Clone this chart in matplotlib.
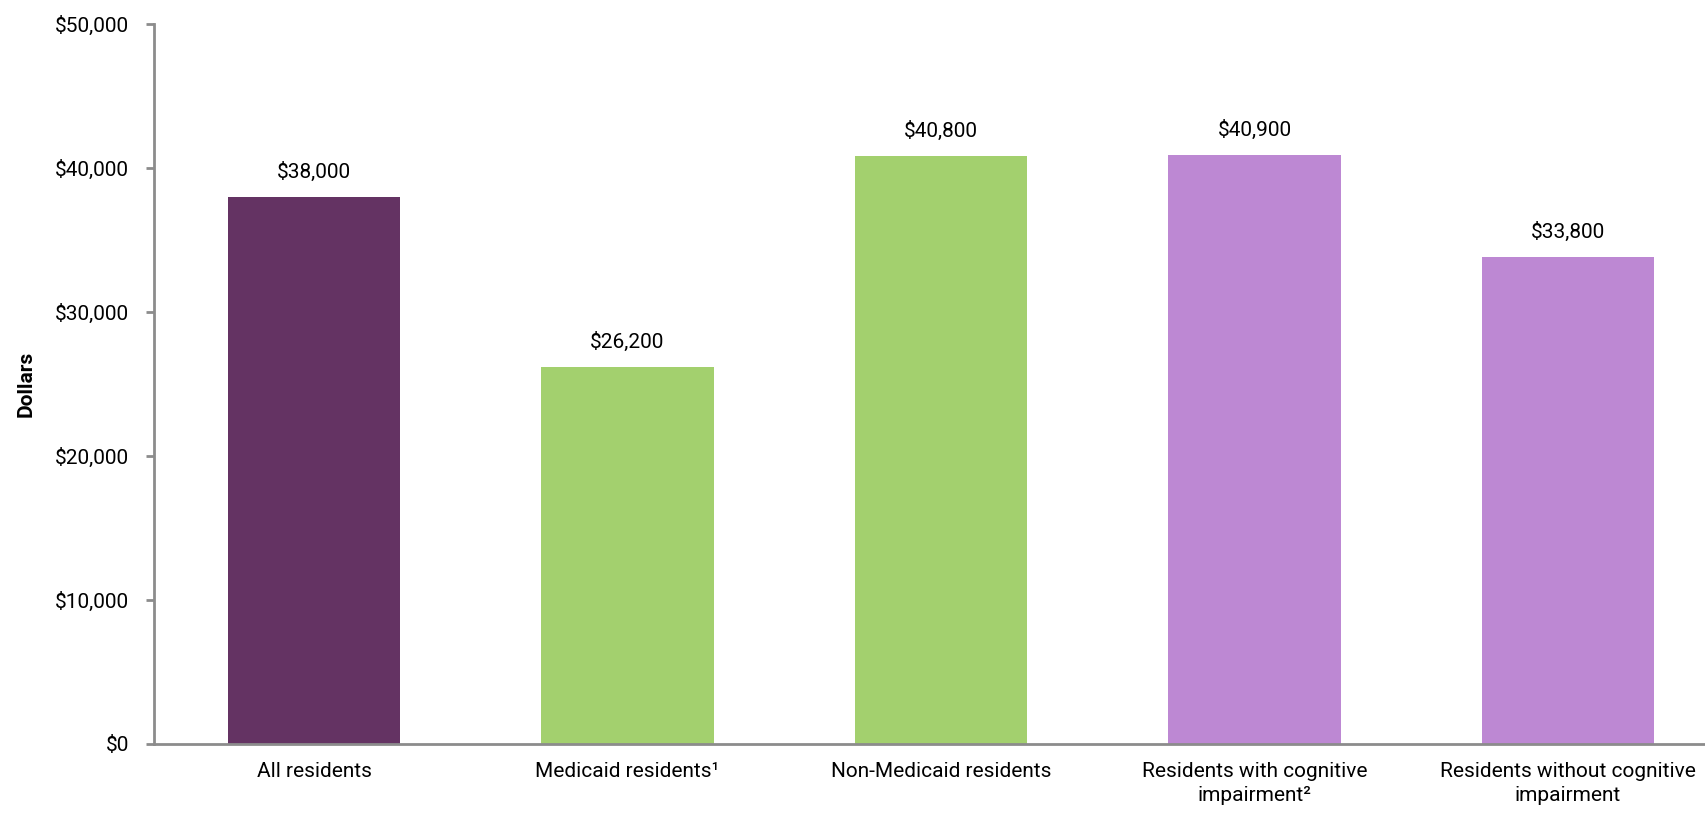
import matplotlib
matplotlib.use('Agg')
import matplotlib.pyplot as plt
import numpy as np

# chart data
categories = ['All residents', 'Medicaid residents\u00b9', 'Non-Medicaid residents',
              'Residents with cognitive\nimpairment\u00b2', 'Residents without cognitive\nimpairment']
values = [38000, 26200, 40800, 40900, 33800]
value_labels = ['$38,000', '$26,200', '$40,800', '$40,900', '$33,800']
colors = ['#643363', '#a3d06e', '#a3d06e', '#bd88d3', '#bd88d3']
yticks = [0, 10000, 20000, 30000, 40000, 50000]
ytick_labels = ['$0', '$10,000', '$20,000', '$30,000', '$40,000', '$50,000']

plt.rcParams['font.family'] = ['Roboto', 'DejaVu Sans']
fs = 15

fig = plt.figure(figsize=(17.06, 8.21), dpi=100)
ax = fig.add_axes([0.0903, 0.0938, 0.9097, 0.877])

x = np.arange(len(categories))
ax.bar(x, values, width=0.55, color=colors, zorder=2)

for xi, v, lab in zip(x, values, value_labels):
    ax.annotate(lab, (xi, v), xytext=(0, 11), textcoords='offset points',
                ha='center', va='bottom', fontsize=fs)

ax.set_xlim(-0.51, 4.44)
ax.set_ylim(0, 50000)
ax.set_yticks(yticks)
ax.set_yticklabels(ytick_labels, fontsize=fs)
ax.set_xticks(x)
ax.set_xticklabels(categories, fontsize=fs, linespacing=1.35)

ax.spines['top'].set_visible(False)
ax.spines['right'].set_visible(False)
for s in ['left', 'bottom']:
    ax.spines[s].set_color('#8c8c8c')
    ax.spines[s].set_linewidth(2)
ax.tick_params(axis='y', length=6, width=2, color='#8c8c8c', pad=12)
ax.tick_params(axis='x', length=0, pad=13)

ax.set_ylabel('Dollars', fontsize=fs, fontweight='bold', labelpad=14)

fig.savefig('out.png', dpi=100)
